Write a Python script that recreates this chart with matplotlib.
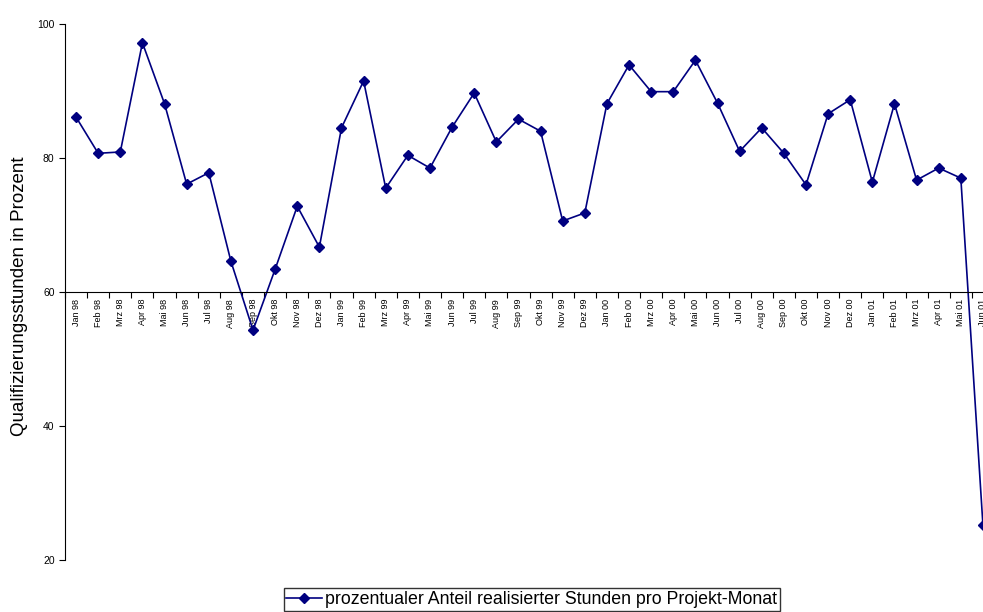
import numpy as np
import matplotlib.pyplot as plt

plt.rcParams['font.family'] = ['Liberation Sans', 'DejaVu Sans']

# Monate und Werte
monate = ['Jan 98', 'Feb 98', 'Mrz 98', 'Apr 98', 'Mai 98', 'Jun 98', 'Jul 98', 'Aug 98',
          'Sep 98', 'Okt 98', 'Nov 98', 'Dez 98',
          'Jan 99', 'Feb 99', 'Mrz 99', 'Apr 99', 'Mai 99', 'Jun 99', 'Jul 99', 'Aug 99',
          'Sep 99', 'Okt 99', 'Nov 99', 'Dez 99',
          'Jan 00', 'Feb 00', 'Mrz 00', 'Apr 00', 'Mai 00', 'Jun 00', 'Jul 00', 'Aug 00',
          'Sep 00', 'Okt 00', 'Nov 00', 'Dez 00',
          'Jan 01', 'Feb 01', 'Mrz 01', 'Apr 01', 'Mai 01', 'Jun 01']
anteil = [86.1, 80.7, 80.9, 97.2, 88.1, 76.1, 77.8, 64.6, 54.3, 63.4, 72.8, 66.7,
          84.5, 91.5, 75.5, 80.4, 78.5, 84.6, 89.7, 82.4, 85.8, 84.0, 70.6, 71.8,
          88.1, 93.9, 89.9, 89.9, 94.6, 88.2, 81.0, 84.5, 80.7, 76.0, 86.6, 88.7,
          76.4, 88.1, 76.7, 78.5, 77.0, 25.2]
y_ticks = [20, 40, 60, 80, 100]

fig = plt.figure(figsize=(9.83, 6.12), dpi=100)
ax = fig.add_axes([65 / 983, 1 - 560 / 612, (994 - 65) / 983, (560 - 24) / 612])

x = np.arange(len(monate))
ax.plot(x, anteil, color='#000080', lw=1.2, marker='D', ms=4.8,
        label='prozentualer Anteil realisierter Stunden pro Projekt-Monat')

ax.set_xlim(-0.5, len(monate) - 0.5)
ax.set_ylim(20, 100)

ax.spines['top'].set_visible(False)
ax.spines['right'].set_visible(False)
ax.spines['bottom'].set_position(('data', 60))

ax.set_yticks(y_ticks)
ax.tick_params(axis='y', direction='out', length=4, labelsize=7.5)

ax.set_xticks(np.arange(len(monate) + 1) - 0.5)
ax.set_xticklabels([])
ax.tick_params(axis='x', which='major', direction='out', length=4)
ax.set_xticks(x, minor=True)
ax.set_xticklabels(monate, minor=True, rotation=90, fontsize=6.5)
ax.tick_params(axis='x', which='minor', length=0, pad=5)

ax.set_ylabel('Qualifizierungsstunden in Prozent', fontsize=13.5)
ax.yaxis.set_label_coords(-0.040, 0.493)

fig.legend(loc='lower center', bbox_to_anchor=(0.541, 0.002), frameon=True,
           fancybox=False, edgecolor='black', fontsize=12.8, handlelength=2.0,
           handletextpad=0.2, borderpad=0.15, borderaxespad=0)

plt.savefig('out.png')
